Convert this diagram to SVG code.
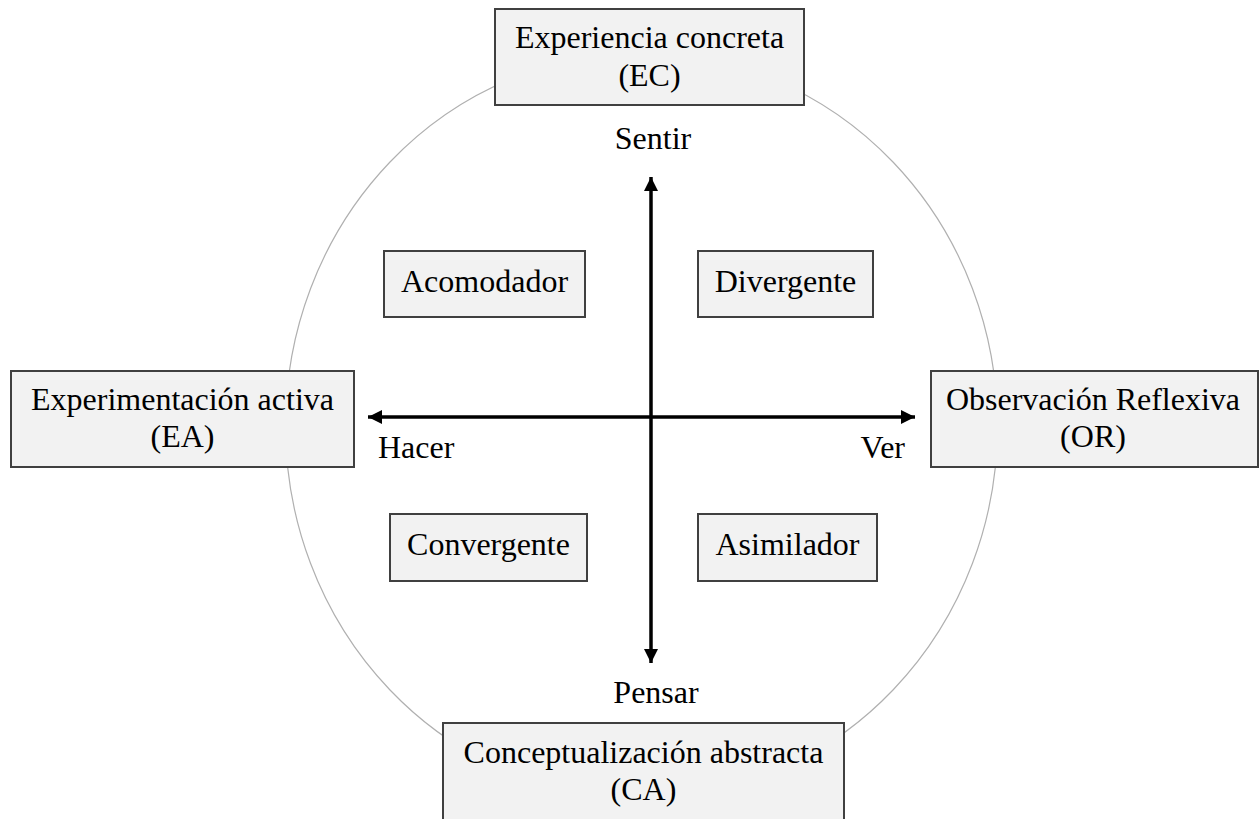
<svg xmlns="http://www.w3.org/2000/svg" width="1259" height="819" viewBox="0 0 1259 819">
  <defs>
    <marker id="ah" viewBox="0 0 10 10" refX="10" refY="5" markerWidth="4" markerHeight="4" orient="auto-start-reverse" markerUnits="strokeWidth">
      <path d="M0,0 L10,5 L0,10 Z" fill="#000"/>
    </marker>
    <style>
      .box { fill: #f2f2f2; stroke: #404040; stroke-width: 2; }
      .t { font-family: "Liberation Serif", "Times New Roman", serif; font-size: 32px; fill: #000; text-anchor: middle; }
      .axis { stroke: #000; stroke-width: 3.5; fill: none; }
      .ring { fill: none; stroke: #b0b0b0; stroke-width: 1.2; }
    </style>
  </defs>
  <rect width="1259" height="819" fill="#fff"/>
  <ellipse class="ring" cx="641.5" cy="426" rx="356" ry="373"/>

  <g id="connectors">
    <line class="axis" x1="651" y1="663" x2="651" y2="177" marker-end="url(#ah)" marker-start="url(#ah)"/>
    <line class="axis" x1="368" y1="417" x2="915" y2="417" marker-end="url(#ah)" marker-start="url(#ah)"/>
  </g>

  <g id="ec">
    <rect class="box" x="495" y="9" width="309" height="96"/>
    <text class="t" x="649.5" y="48">Experiencia concreta</text>
    <text class="t" x="649.5" y="86">(EC)</text>
  </g>
  <g id="ea">
    <rect class="box" x="11" y="371" width="343" height="96"/>
    <text class="t" x="182.5" y="410">Experimentación activa</text>
    <text class="t" x="182.5" y="447">(EA)</text>
  </g>
  <g id="or">
    <rect class="box" x="931" y="371" width="327" height="96"/>
    <text class="t" x="1093" y="410">Observación Reflexiva</text>
    <text class="t" x="1093" y="447">(OR)</text>
  </g>
  <g id="ca">
    <rect class="box" x="443" y="723" width="401" height="110"/>
    <text class="t" x="643.5" y="763">Conceptualización abstracta</text>
    <text class="t" x="643.5" y="800">(CA)</text>
  </g>

  <g id="acomodador">
    <rect class="box" x="384" y="251" width="201" height="66"/>
    <text class="t" x="484.5" y="292">Acomodador</text>
  </g>
  <g id="divergente">
    <rect class="box" x="698" y="251" width="175" height="66"/>
    <text class="t" x="785.5" y="292">Divergente</text>
  </g>
  <g id="convergente">
    <rect class="box" x="390" y="514" width="197" height="67"/>
    <text class="t" x="488.5" y="555">Convergente</text>
  </g>
  <g id="asimilador">
    <rect class="box" x="698" y="514" width="179" height="67"/>
    <text class="t" x="787.5" y="555">Asimilador</text>
  </g>

  <g id="labels">
    <text class="t" x="653" y="149">Sentir</text>
    <text class="t" x="656" y="703">Pensar</text>
    <text class="t" x="378" y="458" style="text-anchor:start">Hacer</text>
    <text class="t" x="905" y="458" style="text-anchor:end">Ver</text>
  </g>
</svg>
